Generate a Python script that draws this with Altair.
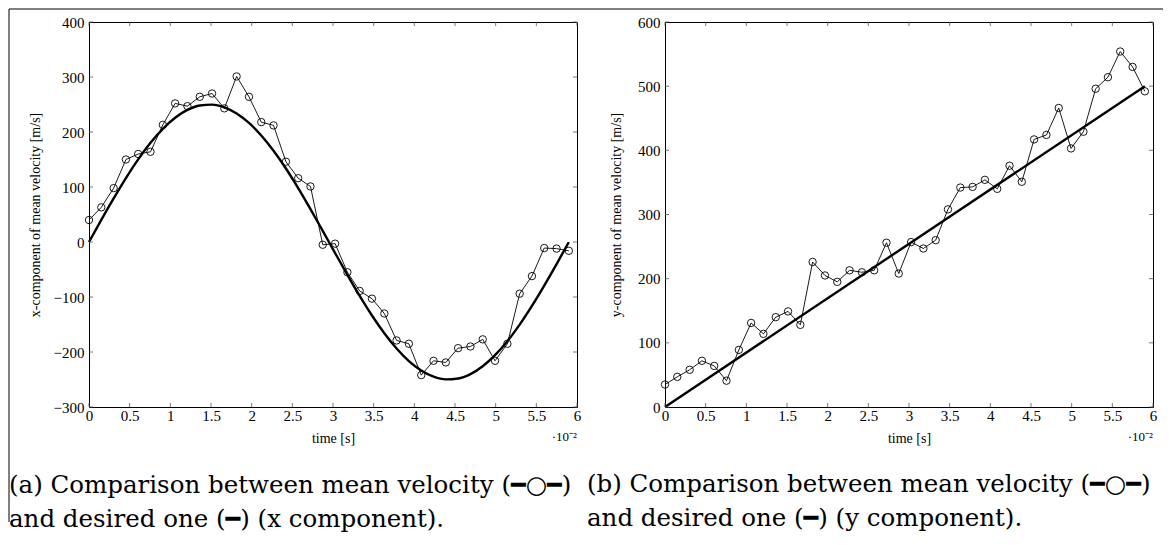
import altair as alt
import pandas as pd

# ---------------- data ----------------
time_vals = [0.000, 0.151, 0.303, 0.454, 0.605, 0.756, 0.908, 1.059, 1.210, 1.362,
             1.513, 1.664, 1.815, 1.967, 2.118, 2.269, 2.421, 2.572, 2.723, 2.874,
             3.026, 3.177, 3.328, 3.479, 3.631, 3.782, 3.933, 4.085, 4.236, 4.387,
             4.538, 4.690, 4.841, 4.992, 5.144, 5.295, 5.446, 5.597, 5.749, 5.900]

vx_mean = [40, 63, 98, 150, 160, 164, 213, 252, 247, 264,
           270, 243, 301, 264, 218, 212, 146, 116, 101, -5,
           -3, -55, -89, -103, -130, -179, -185, -242, -216, -219,
           -193, -190, -177, -216, -185, -94, -62, -11, -12, -16]

vx_desired = [0.0, 40.1, 79.2, 116.2, 150.2, 180.3, 205.7, 225.9, 240.1, 248.2,
              249.8, 244.9, 233.7, 216.5, 193.6, 165.8, 133.6, 98.0, 59.8, 20.1,
              -20.1, -59.8, -98.0, -133.6, -165.8, -193.6, -216.5, -233.7, -244.9, -249.8,
              -248.2, -240.1, -225.9, -205.7, -180.3, -150.2, -116.2, -79.2, -40.1, 0.0]

vy_mean = [35, 47, 58, 72, 64, 41, 89, 131, 114, 140,
           149, 128, 226, 205, 195, 213, 210, 213, 256, 208,
           257, 247, 260, 308, 342, 343, 354, 340, 376, 351,
           417, 424, 466, 403, 429, 496, 514, 554, 530, 492]

vy_desired_t = [0.0, 5.9]
vy_desired = [0, 500]

x_ticks = [0, 0.5, 1, 1.5, 2, 2.5, 3, 3.5, 4, 4.5, 5, 5.5, 6]
y_ticks_a = [-300, -200, -100, 0, 100, 200, 300, 400]
y_ticks_b = [0, 100, 200, 300, 400, 500, 600]

caption_a = ["(a) Comparison between mean velocity (━○━)",
             "and desired one (━) (x component)."]
caption_b = ["(b) Comparison between mean velocity (━○━)",
             "and desired one (━) (y component)."]

FONT = "Liberation Serif"
CAP_FONT = "DejaVu Serif, DejaVu Sans"
W, H = 488, 385


def panel(mean_vals, des_t, des_vals, y_ticks, y_title, caption, y_tp,
          cap_dx, cap_offset, frame):
    df_mean = pd.DataFrame({"t": time_vals, "v": mean_vals})
    df_des = pd.DataFrame({"t": des_t, "v": des_vals})
    xs = alt.Scale(domain=[0, 6], nice=False, zero=False)
    ys = alt.Scale(domain=[y_ticks[0], y_ticks[-1]], nice=False, zero=False)
    x_enc = alt.X("t:Q", scale=xs,
                  axis=alt.Axis(values=x_ticks, format="~f", title="time [s]",
                                labelPadding=1, titlePadding=8, labelFlush=False))
    y_enc = alt.Y("v:Q", scale=ys,
                  axis=alt.Axis(values=y_ticks, format="~f", title=y_title,
                                labelPadding=5, titlePadding=y_tp, labelFlush=False))

    desired = alt.Chart(df_des).mark_line(
        color="black", strokeWidth=2.4, interpolate="monotone"
    ).encode(x=x_enc, y=y_enc)
    mean_line = alt.Chart(df_mean).mark_line(
        color="black", strokeWidth=0.9
    ).encode(x="t:Q", y="v:Q")
    mean_pts = alt.Chart(df_mean).mark_point(
        shape="circle", filled=False, color="black", size=55, strokeWidth=0.9,
        opacity=1
    ).encode(x="t:Q", y="v:Q")

    xt = pd.DataFrame({"t": x_ticks})
    yt = pd.DataFrame({"v": y_ticks})
    tick_style = dict(color="#555555", strokeWidth=0.8)
    t_bottom = alt.Chart(xt).mark_rule(**tick_style).encode(
        x="t:Q", y=alt.value(H), y2=alt.value(H - 4))
    t_top = alt.Chart(xt).mark_rule(**tick_style).encode(
        x="t:Q", y=alt.value(0), y2=alt.value(4))
    t_left = alt.Chart(yt).mark_rule(**tick_style).encode(
        y="v:Q", x=alt.value(0), x2=alt.value(4))
    t_right = alt.Chart(yt).mark_rule(**tick_style).encode(
        y="v:Q", x=alt.value(W), x2=alt.value(W - 4))

    one = pd.DataFrame({"a": [0]})
    exp_txt = alt.Chart(one).mark_text(
        align="right", baseline="middle", font=FONT, fontSize=13, color="black"
    ).encode(x=alt.value(W), y=alt.value(H + 30), text=alt.value("·10⁻²"))

    layers = [desired, mean_line, mean_pts, t_bottom, t_top, t_left, t_right, exp_txt]
    if frame:
        fr_top = alt.Chart(one).mark_rule(color="black", strokeWidth=1).encode(
            x=alt.value(-80), x2=alt.value(1074), y=alt.value(-13))
        fr_left = alt.Chart(one).mark_rule(color="black", strokeWidth=1).encode(
            x=alt.value(-80), y=alt.value(-13), y2=alt.value(500))
        layers += [fr_top, fr_left]

    return alt.layer(*layers).properties(
        width=W, height=H,
        title=alt.TitleParams(
            text=caption, orient="bottom", anchor="start", frame="group",
            dx=cap_dx, offset=cap_offset, font=CAP_FONT, fontSize=24.5,
            fontWeight="normal", lineHeight=34, baseline="alphabetic",
            color="black"),
    )


left = panel(vx_mean, time_vals, vx_desired, y_ticks_a,
             "x-component of mean velocity [m/s]", caption_a, 11, -80, -29.5, True)
right = panel(vy_mean, vy_desired_t, vy_desired, y_ticks_b,
              "y-component of mean velocity [m/s]", caption_b, 14, -78, 47, False)

chart = alt.hconcat(left, right, spacing=88, bounds="flush").properties(
    padding=0, background="white"
).configure_view(
    stroke="black", strokeWidth=1
).configure_axis(
    domain=False, ticks=False, grid=False,
    labelFont=FONT, labelFontSize=15, labelColor="black",
    titleFont=FONT, titleFontSize=14, titleFontWeight="normal", titleColor="black",
)

chart.save("out.html", embed_options={"renderer": "svg", "actions": False})
